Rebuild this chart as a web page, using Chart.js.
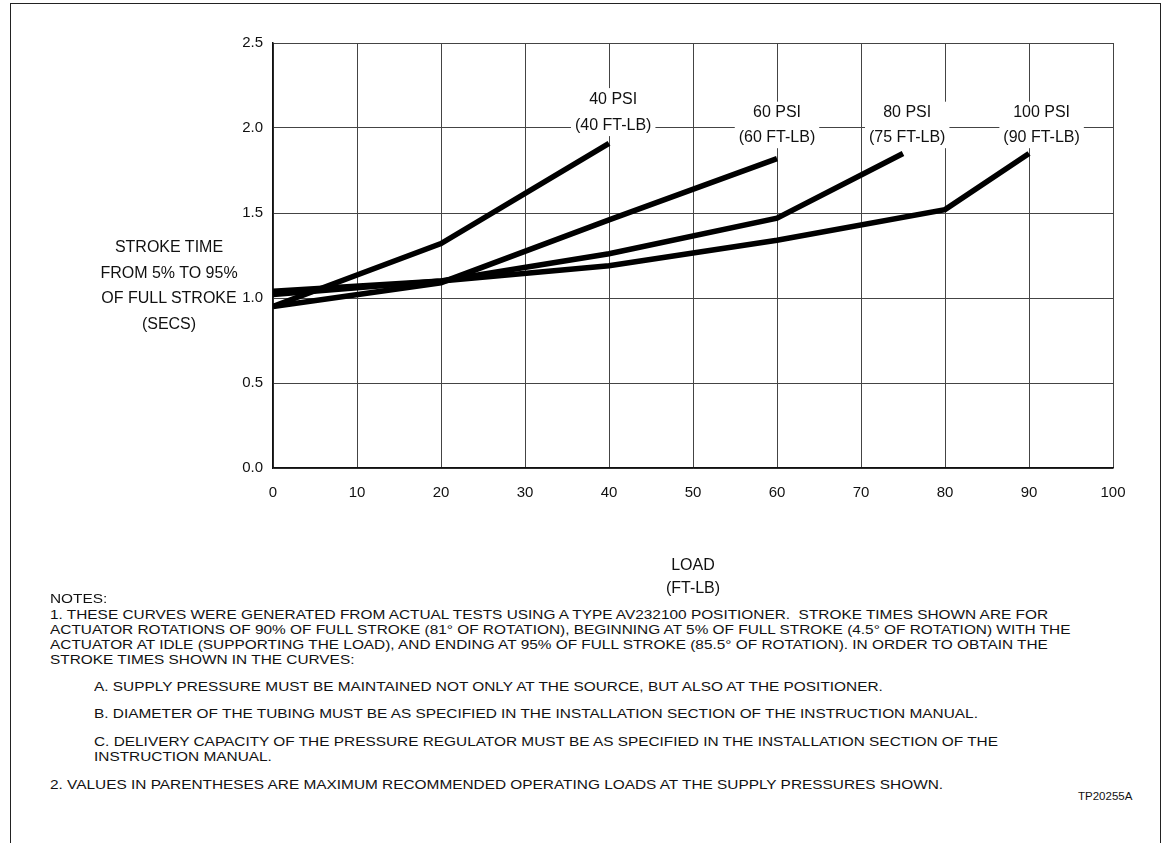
<!DOCTYPE html>
<html>
<head>
<meta charset="utf-8">
<script src="https://cdn.jsdelivr.net/npm/chart.js@4"></script>
<style>
  html, body { margin: 0; padding: 0; background: #fff; }
  body { width: 1165px; height: 843px; position: relative; overflow: hidden;
         font-family: "Liberation Sans", Arial, Helvetica, sans-serif; color: #111; }
  #frame { position: absolute; left: 10px; top: 3px; width: 1149px; height: 860px;
           border-left: 1px solid #222; border-top: 1px solid #222; border-right: 1px solid #222; }
  #wrap { position: absolute; left: 0; top: 0; width: 1165px; height: 600px; }
  #ytitle { position: absolute; left: 69px; top: 234px; width: 200px; text-align: center;
            font-size: 16px; line-height: 25.5px; }
  .note { position: absolute; font-size: 13.5px; white-space: nowrap; line-height: 16px;
          transform: scaleX(1.14); transform-origin: 0 0; }
  #code { position: absolute; left: 1078px; top: 790px; font-size: 11.5px; }
</style>
</head>
<body>
<div id="frame"></div>
<div id="wrap"><canvas id="myChart"></canvas></div>
<div id="ytitle">STROKE TIME<br>FROM 5% TO 95%<br>OF FULL STROKE<br>(SECS)</div>
<div class="note" style="left:50px;top:591px">NOTES:</div>
<div class="note" style="left:50px;top:607px">1. THESE CURVES WERE GENERATED FROM ACTUAL TESTS USING A TYPE AV232100 POSITIONER.&nbsp; STROKE TIMES SHOWN ARE FOR</div>
<div class="note" style="left:50px;top:622px">ACTUATOR ROTATIONS OF 90% OF FULL STROKE (81° OF ROTATION), BEGINNING AT 5% OF FULL STROKE (4.5° OF ROTATION) WITH THE</div>
<div class="note" style="left:50px;top:637px">ACTUATOR AT IDLE (SUPPORTING THE LOAD), AND ENDING AT 95% OF FULL STROKE (85.5° OF ROTATION). IN ORDER TO OBTAIN THE</div>
<div class="note" style="left:50px;top:652px">STROKE TIMES SHOWN IN THE CURVES:</div>
<div class="note" style="left:94px;top:679px">A. SUPPLY PRESSURE MUST BE MAINTAINED NOT ONLY AT THE SOURCE, BUT ALSO AT THE POSITIONER.</div>
<div class="note" style="left:94px;top:706px">B. DIAMETER OF THE TUBING MUST BE AS SPECIFIED IN THE INSTALLATION SECTION OF THE INSTRUCTION MANUAL.</div>
<div class="note" style="left:94px;top:734px">C. DELIVERY CAPACITY OF THE PRESSURE REGULATOR MUST BE AS SPECIFIED IN THE INSTALLATION SECTION OF THE</div>
<div class="note" style="left:94px;top:749px">INSTRUCTION MANUAL.</div>
<div class="note" style="left:50px;top:777px">2. VALUES IN PARENTHESES ARE MAXIMUM RECOMMENDED OPERATING LOADS AT THE SUPPLY PRESSURES SHOWN.</div>
<div id="code">TP20255A</div>
<script>
// load (ft-lb) vs stroke time (secs) for each supply pressure
const load40 = [0, 20, 40];
const time40 = [0.95, 1.32, 1.91];
const load60 = [0, 20, 40, 60];
const time60 = [0.95, 1.09, 1.46, 1.82];
const load80 = [0, 20, 40, 60, 75];
const time80 = [1.02, 1.10, 1.26, 1.47, 1.85];
const load100 = [0, 20, 40, 60, 80, 90];
const time100 = [1.04, 1.10, 1.19, 1.34, 1.52, 1.85];

const curveLabels = [
    ['40 PSI', '(40 FT-LB)'],
    ['60 PSI', '(60 FT-LB)'],
    ['80 PSI', '(75 FT-LB)'],
    ['100 PSI', '(90 FT-LB)']
];
// where each label sits: x in load units, y of first text line in secs
const labelX = [40.5, 60, 75.5, 91.5];
const labelY = [2.17, 2.09, 2.09, 2.09];
const labelGap = [26, 24.5, 24.5, 24.5];

const xTicks = [0, 10, 20, 30, 40, 50, 60, 70, 80, 90, 100];

function pts(xs, ys) { return xs.map((x, i) => ({ x: x, y: ys[i] })); }

const ctx = document.getElementById('myChart');

// white boxes + text for the pressure labels, drawn over the grid
const labelPlugin = {
    id: 'psiLabels',
    beforeDatasetsDraw(chart) {
        const c = chart.ctx;
        const xs = chart.scales.x, ys = chart.scales.y;
        c.save();
        c.font = '16px "Liberation Sans", Arial, sans-serif';
        c.textAlign = 'center';
        c.textBaseline = 'middle';
        curveLabels.forEach((lines, i) => {
            const px = xs.getPixelForValue(labelX[i]);
            const py = ys.getPixelForValue(labelY[i]);
            const w = Math.max(...lines.map(t => c.measureText(t).width)) + 8;
            c.fillStyle = '#fff';
            c.fillRect(px - w / 2, py - 11, w, labelGap[i] + 22);
            c.fillStyle = '#111';
            lines.forEach((t, j) => c.fillText(t, px, py + j * labelGap[i]));
        });
        c.restore();
    }
};

const myChart = new Chart(ctx, {
    type: 'line',
    data: {
        datasets: [
            { label: '40 PSI', data: pts(load40, time40) },
            { label: '60 PSI', data: pts(load60, time60) },
            { label: '80 PSI', data: pts(load80, time80) },
            { label: '100 PSI', data: pts(load100, time100) }
        ].map(d => Object.assign(d, {
            borderColor: '#000', borderWidth: 5.5, pointRadius: 0,
            tension: 0, fill: false, borderCapStyle: 'butt', borderJoinStyle: 'miter'
        }))
    },
    options: {
        responsive: true,
        maintainAspectRatio: false,
        animation: false,
        events: [],
        layout: { padding: { left: 213, right: 52, top: 43, bottom: 0 } },
        plugins: { legend: { display: false }, tooltip: { enabled: false } },
        scales: {
            x: {
                type: 'linear', min: 0, max: 100,
                afterBuildTicks: s => { s.ticks = xTicks.map(v => ({ value: v })); },
                grid: { color: '#444', lineWidth: 1, drawTicks: false },
                border: { color: '#111', width: 1.5 },
                ticks: { color: '#111', padding: 16, font: { size: 15, family: '"Liberation Sans", Arial' } },
                title: {
                    display: true, text: ['LOAD', '(FT-LB)'], color: '#111',
                    font: { size: 16, family: '"Liberation Sans", Arial', lineHeight: 1.45 },
                    padding: { top: 38, bottom: 0 }
                },
                afterFit: s => { s.height = 132; }
            },
            y: {
                type: 'linear', min: 0, max: 2.5,
                grid: { color: '#444', lineWidth: 1, drawTicks: false },
                border: { color: '#111', width: 1.5 },
                ticks: {
                    stepSize: 0.5, color: '#111', padding: 10,
                    font: { size: 15, family: '"Liberation Sans", Arial' },
                    callback: v => v.toFixed(1)
                },
                afterFit: s => { s.width = 60; }
            }
        }
    },
    plugins: [labelPlugin]
});
</script>
</body>
</html>
